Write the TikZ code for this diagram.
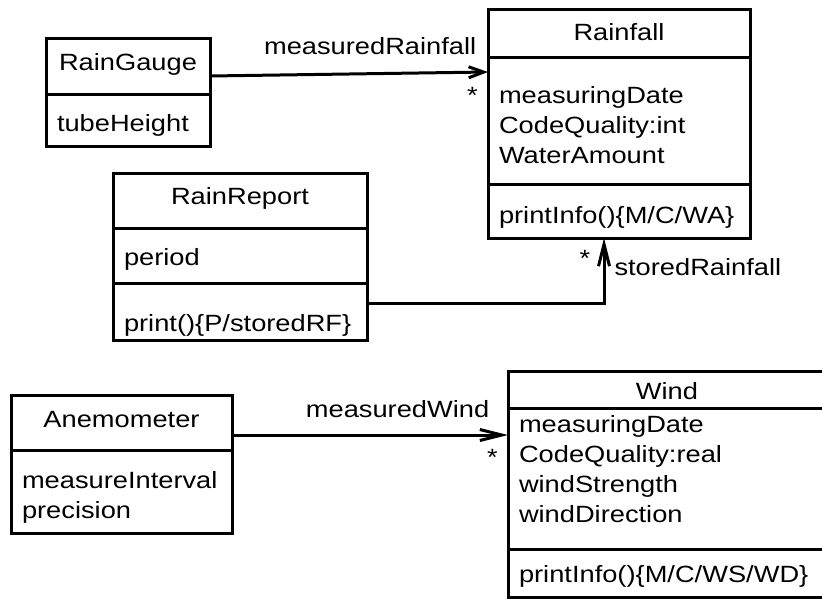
\documentclass[tikz,border=0pt]{standalone}
\usepackage{fontspec}
\setmainfont{Liberation Sans}[FakeStretch=1.16]
\usetikzlibrary{arrows.meta,positioning}

\tikzset{
  head/.style n args={2}{rectangle, draw, line width=3pt, outer sep=0pt, inner xsep=11pt, inner ysep=0pt, align=center, text height=#1, text depth=#2},
  body/.style n args={2}{head={#1}{#2}, align=left},
  assoc/.style={line width=3pt, -{Straight Barb[length=#1, width=11pt]}},
  assoc/.default=22pt,
  role/.style={inner sep=2pt},
  mult/.style={pos=1, anchor=base, inner sep=0pt}
}

\begin{document}
\begin{tikzpicture}[x=1pt, y=-1pt, font=\fontsize{23.5}{30}\selectfont]
  \useasboundingbox (0,0) rectangle (822,598);

  % RainGauge
  \node[head={32.7pt}{23.3pt}, text width=142pt, anchor=north west] (rg-name) at (46,38) {RainGauge};
  \node[body={37.7pt}{14.3pt}, text width=142pt, below=0pt of rg-name] (rg-attr) {tubeHeight};

  % Rainfall
  \node[head={31.7pt}{16.3pt}, text width=240pt, anchor=north west] (rf-name) at (488,9) {Rainfall};
  \node[body={46.3pt}{80.7pt}, text width=240pt, below=0pt of rf-name] (rf-attr) {measuringDate\\CodeQuality:int\\WaterAmount};
  \node[body={39.5pt}{14.5pt}, text width=240pt, below=0pt of rf-attr] (rf-op) {printInfo()\{M/C/WA\}};

  % RainReport
  \node[head={31pt}{24pt}, text width=232pt, anchor=north west] (rr-name) at (113,173) {RainReport};
  \node[body={37.7pt}{17.3pt}, text width=232pt, below=0pt of rr-name] (rr-attr) {period};
  \node[body={48pt}{9pt}, text width=232pt, below=0pt of rr-attr] (rr-op) {print()\{P/storedRF\}};

  % Anemometer
  \node[head={32.7pt}{22.3pt}, text width=199pt, anchor=north west] (an-name) at (11,395) {Anemometer};
  \node[body={38.3pt}{44.7pt}, text width=199pt, below=0pt of an-name] (an-attr) {measureInterval\\precision};

  % Wind
  \node[head={28pt}{9pt}, text width=296pt, anchor=north west] (wi-name) at (508,371) {Wind};
  \node[body={24.7pt}{116.3pt}, text width=296pt, below=0pt of wi-name] (wi-attr) {measuringDate\\CodeQuality:real\\windStrength\\windDirection};
  \node[body={33.7pt}{14.3pt}, text width=296pt, below=0pt of wi-attr] (wi-op) {printInfo()\{M/C/WS/WD\}};

  % associations
  \draw[assoc=15pt] ([yshift=-10pt]rg-name.east) -- ([yshift=-15pt]rf-attr.north west)
    node[role, pos=0.576, above=15.7pt] (l-mr) {measuredRainfall}
    node[mult, xshift=-15.7pt, yshift=-31pt] (m-mr) {*};
  \draw[assoc] ([yshift=8.5pt]rr-op.east) -| ([xshift=-15pt]rf-op.south)
    node[role, pos=0.774, right=7pt] (l-sr) {storedRainfall}
    node[mult, xshift=-19pt, yshift=-28.4pt] (m-sr) {*};
  \draw[assoc] ([yshift=-12.5pt]an-name.east) -- ([yshift=-27pt]wi-attr.north west)
    node[role, pos=0.6, above=13.7pt] (l-mw) {measuredWind}
    node[mult, xshift=-15.7pt, yshift=-30.4pt] (m-mw) {*};
\end{tikzpicture}
\end{document}
